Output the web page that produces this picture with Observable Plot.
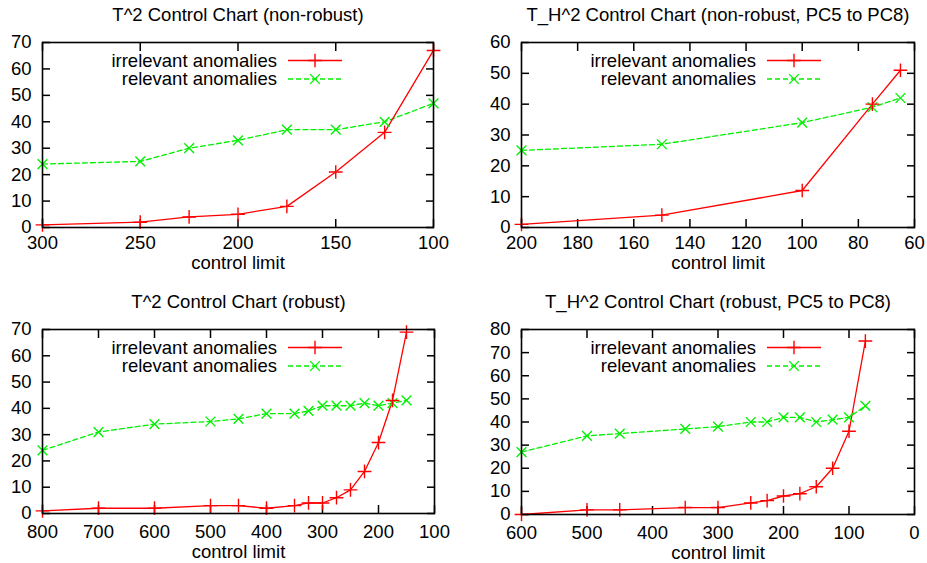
<!DOCTYPE html>
<html><head><meta charset="utf-8">
<script src="https://cdn.jsdelivr.net/npm/d3@7"></script>
<script src="https://cdn.jsdelivr.net/npm/@observablehq/plot@0.6"></script>
<style>
body{margin:0;background:#fff;}
#root{position:relative;width:927px;height:563px;overflow:hidden;background:#fff;}
#root svg{position:absolute;overflow:visible;}
</style></head><body><div id="root"></div>
<script>
const seriesNames = ["irrelevant anomalies", "relevant anomalies"];
const seriesColors = ["#ff0000", "#00f000"];
const xLabel = "control limit";

// Panel 1: T^2 Control Chart (non-robust)
const p1Title = "T^2 Control Chart (non-robust)";
const p1Limits = [300, 250, 225, 200, 175, 150, 125, 100];
const p1Irrelevant = [1, 2, 4, 5, 8, 21, 36, 67];
const p1Relevant = [24, 25, 30, 33, 37, 37, 40, 47];
const p1XTicks = [300, 250, 200, 150, 100];
const p1YTicks = [0, 10, 20, 30, 40, 50, 60, 70];

// Panel 2: T_H^2 Control Chart (non-robust, PC5 to PC8)
const p2Title = "T_H^2 Control Chart (non-robust, PC5 to PC8)";
const p2Limits = [200, 150, 100, 75, 65];
const p2Irrelevant = [1, 4, 12, 40, 51];
const p2Relevant = [25, 27, 34, 39, 42];
const p2XTicks = [200, 180, 160, 140, 120, 100, 80, 60];
const p2YTicks = [0, 10, 20, 30, 40, 50, 60];

// Panel 3: T^2 Control Chart (robust)
const p3Title = "T^2 Control Chart (robust)";
const p3Limits = [800, 700, 600, 500, 450, 400, 350, 325, 300, 275, 250, 225, 200, 175, 150];
const p3Irrelevant = [1, 2, 2, 3, 3, 2, 3, 4, 4, 6, 9, 16, 27, 43, 69];
const p3Relevant = [24, 31, 34, 35, 36, 38, 38, 39, 41, 41, 41, 42, 41, 42, 43];
const p3XTicks = [800, 700, 600, 500, 400, 300, 200, 100];
const p3YTicks = [0, 10, 20, 30, 40, 50, 60, 70];

// Panel 4: T_H^2 Control Chart (robust, PC5 to PC8)
const p4Title = "T_H^2 Control Chart (robust, PC5 to PC8)";
const p4Limits = [600, 500, 450, 350, 300, 250, 225, 200, 175, 150, 125, 100, 75];
const p4Irrelevant = [0, 2, 2, 3, 3, 5, 6, 8, 9, 12, 20, 36, 75];
const p4Relevant = [27, 34, 35, 37, 38, 40, 40, 42, 42, 40, 41, 42, 47];
const p4XTicks = [600, 500, 400, 300, 200, 100, 0];
const p4YTicks = [0, 10, 20, 30, 40, 50, 60, 70, 80];

const FONT = "'Liberation Sans', Arial, Helvetica, sans-serif";
const FS = 18.5;

function legendMark(index, scales, values, dims) {
  const g = d3.create("svg:g").attr("font-family", FONT).attr("font-size", FS);
  const x0 = dims.marginLeft;
  const y0 = dims.marginTop;
  seriesNames.forEach((name, i) => {
    const y = y0 + 18.5 + i * 18.5;
    g.append("text").attr("x", x0 + 235).attr("y", y).attr("dy", "0.35em")
      .attr("text-anchor", "end").attr("fill", "black").text(name);
    g.append("line").attr("x1", x0 + 246).attr("x2", x0 + 300).attr("y1", y).attr("y2", y)
      .attr("stroke", seriesColors[i]).attr("stroke-width", 1.3)
      .attr("stroke-dasharray", i === 1 ? "5,3" : null);
    g.append("path").attr("transform", `translate(${x0 + 273},${y})`)
      .attr("d", d3.symbol(i === 0 ? d3.symbolPlus : d3.symbolTimes, Math.PI * 4.5 * 4.5)())
      .attr("fill", "none").attr("stroke", seriesColors[i]).attr("stroke-width", 1.4);
  });
  return g.node();
}

function makePanel(cfg) {
  const irr = cfg.limits.map((x, i) => ({limit: x, count: cfg.irr[i]}));
  const rel = cfg.limits.map((x, i) => ({limit: x, count: cfg.rel[i]}));
  const svg = Plot.plot({
    width: cfg.width, height: cfg.height,
    marginLeft: cfg.ml, marginRight: cfg.mr, marginTop: cfg.mt, marginBottom: cfg.mb,
    style: {fontFamily: FONT, fontSize: FS + "px", background: "transparent", color: "black"},
    x: {domain: cfg.xDomain, label: null},
    y: {domain: cfg.yDomain, label: null},
    marks: [
      Plot.axisX(cfg.xTicks, {anchor: "bottom", tickSize: 0, tickPadding: cfg.xPad, fontSize: FS, label: null}),
      Plot.axisX(cfg.xTicks, {anchor: "bottom", tickSize: -8, strokeWidth: 1.5, tickFormat: () => "", label: null}),
      Plot.axisX(cfg.xTicks, {anchor: "top", tickSize: -8, strokeWidth: 1.5, tickFormat: () => "", label: null}),
      Plot.axisY(cfg.yTicks, {anchor: "left", tickSize: 0, tickPadding: 11, fontSize: FS, label: null}),
      Plot.axisY(cfg.yTicks, {anchor: "left", tickSize: -8, strokeWidth: 1.5, tickFormat: () => "", label: null}),
      Plot.axisY(cfg.yTicks, {anchor: "right", tickSize: -8, strokeWidth: 1.5, tickFormat: () => "", label: null}),
      Plot.line(rel, {x: "limit", y: "count", stroke: seriesColors[1], strokeWidth: 1.3, strokeDasharray: "5,3"}),
      Plot.line(irr, {x: "limit", y: "count", stroke: seriesColors[0], strokeWidth: 1.3}),
      Plot.dot(rel, {x: "limit", y: "count", symbol: "times", r: 4.5, stroke: seriesColors[1], strokeWidth: 1.4}),
      Plot.dot(irr, {x: "limit", y: "count", symbol: "plus", r: 4.5, stroke: seriesColors[0], strokeWidth: 1.4}),
      Plot.frame({stroke: "black", strokeWidth: 1.6}),
      Plot.text([cfg.title], {frameAnchor: "top", dy: -27, fontSize: FS, lineAnchor: "middle", fill: "black"}),
      Plot.text([xLabel], {frameAnchor: "bottom", dy: cfg.labelDy, fontSize: FS, lineAnchor: "middle", fill: "black"}),
      legendMark
    ]
  });
  svg.style.left = cfg.left + "px";
  svg.style.top = cfg.top + "px";
  document.getElementById("root").appendChild(svg);
}

makePanel({title: p1Title, limits: p1Limits, irr: p1Irrelevant, rel: p1Relevant,
  xDomain: [300, 100], xTicks: p1XTicks, yDomain: [0, 70], yTicks: p1YTicks,
  left: 0, top: 0, width: 464, height: 281, ml: 42, mr: 31, mt: 42, mb: 54, xPad: 8, labelDy: 36});
makePanel({title: p2Title, limits: p2Limits, irr: p2Irrelevant, rel: p2Relevant,
  xDomain: [200, 60], xTicks: p2XTicks, yDomain: [0, 60], yTicks: p2YTicks,
  left: 464, top: 0, width: 463, height: 281, ml: 57, mr: 13, mt: 42, mb: 54, xPad: 8, labelDy: 36});
makePanel({title: p3Title, limits: p3Limits, irr: p3Irrelevant, rel: p3Relevant,
  xDomain: [800, 100], xTicks: p3XTicks, yDomain: [0, 70], yTicks: p3YTicks,
  left: 0, top: 282, width: 464, height: 281, ml: 42, mr: 30, mt: 47, mb: 50, xPad: 11, labelDy: 39});
makePanel({title: p4Title, limits: p4Limits, irr: p4Irrelevant, rel: p4Relevant,
  xDomain: [600, 0], xTicks: p4XTicks, yDomain: [0, 80], yTicks: p4YTicks,
  left: 464, top: 282, width: 463, height: 281, ml: 57, mr: 13, mt: 47, mb: 49, xPad: 11, labelDy: 39});
</script></body></html>
